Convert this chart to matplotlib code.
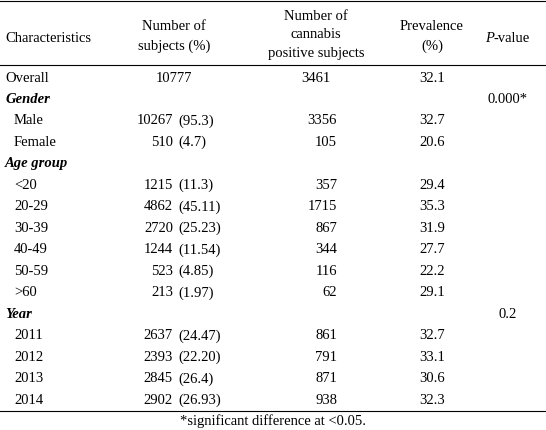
import matplotlib
matplotlib.use("Agg")
import matplotlib.pyplot as plt

W, H = 546, 431
labels = ["Overall", "Gender", "Male", "Female", "Age group", "<20", "20-29", "30-39", "40-49", "50-59", ">60",
          "Year", "2011", "2012", "2013", "2014"]
is_group = [False, True, False, False, True, False, False, False, False, False, False, True, False, False, False, False]
n_subj = ["10777", "", "10267", "510", "", "1215", "4862", "2720", "1244", "523", "213", "", "2637", "2393", "2845", "2902"]
pct = ["", "", "(95.3)", "(4.7)", "", "(11.3)", "(45.11)", "(25.23)", "(11.54)", "(4.85)", "(1.97)", "",
       "(24.47)", "(22.20)", "(26.4)", "(26.93)"]
n_pos = ["3461", "", "3356", "105", "", "357", "1715", "867", "344", "116", "62", "", "861", "791", "871", "938"]
prev = ["32.1", "", "32.7", "20.6", "", "29.4", "35.3", "31.9", "27.7", "22.2", "29.1", "", "32.7", "33.1", "30.6", "32.3"]
pval = ["", "0.000*", "", "", "", "", "", "", "", "", "", "0.2", "", "", "", ""]

fig = plt.figure(figsize=(W/100, H/100), dpi=100)
fig.patch.set_facecolor("white")
FS = 10.5
FAM = "Liberation Serif"

def t(x, y, s, ha="left", **kw):
    fig.text(x/W, 1 - y/H, s, ha=ha, va="center", fontsize=FS, family=FAM, **kw)

def hline(y):
    fig.add_artist(plt.Line2D([0, 1], [1 - y/H, 1 - y/H], color="black", lw=0.8))

hline(2)
hline(66)
hline(412)

t(5, 38, "Characteristics")
t(174, 27, "Number of", ha="center"); t(174, 46, "subjects (%)", ha="center")
t(316, 16, "Number of", ha="center"); t(316, 35, "cannabis", ha="center"); t(316, 54, "positive subjects", ha="center")
t(432, 27, "Prevalence", ha="center"); t(432, 46, "(%)", ha="center")
t(494, 38, "P", ha="right", fontstyle="italic")
t(494, 38, "-value", ha="left")

y0, dy = 78, 21.5
for i in range(len(labels)):
    y = y0 + i*dy
    if is_group[i]:
        t(5, y, labels[i], fontweight="bold", fontstyle="italic")
    elif i == 0:
        t(5, y, labels[i])
    else:
        t(14, y, labels[i])
    if i == 0:
        t(174, y, n_subj[i], ha="center")
        t(316, y, n_pos[i], ha="center")
    else:
        t(173, y, n_subj[i], ha="right")
        t(178, y, pct[i])
        t(337, y, n_pos[i], ha="right")
    t(432, y, prev[i], ha="center")
    t(508, y, pval[i], ha="center")

t(273, 421, "*significant difference at <0.05.", ha="center")
fig.savefig("out.png", dpi=100, facecolor="white")
